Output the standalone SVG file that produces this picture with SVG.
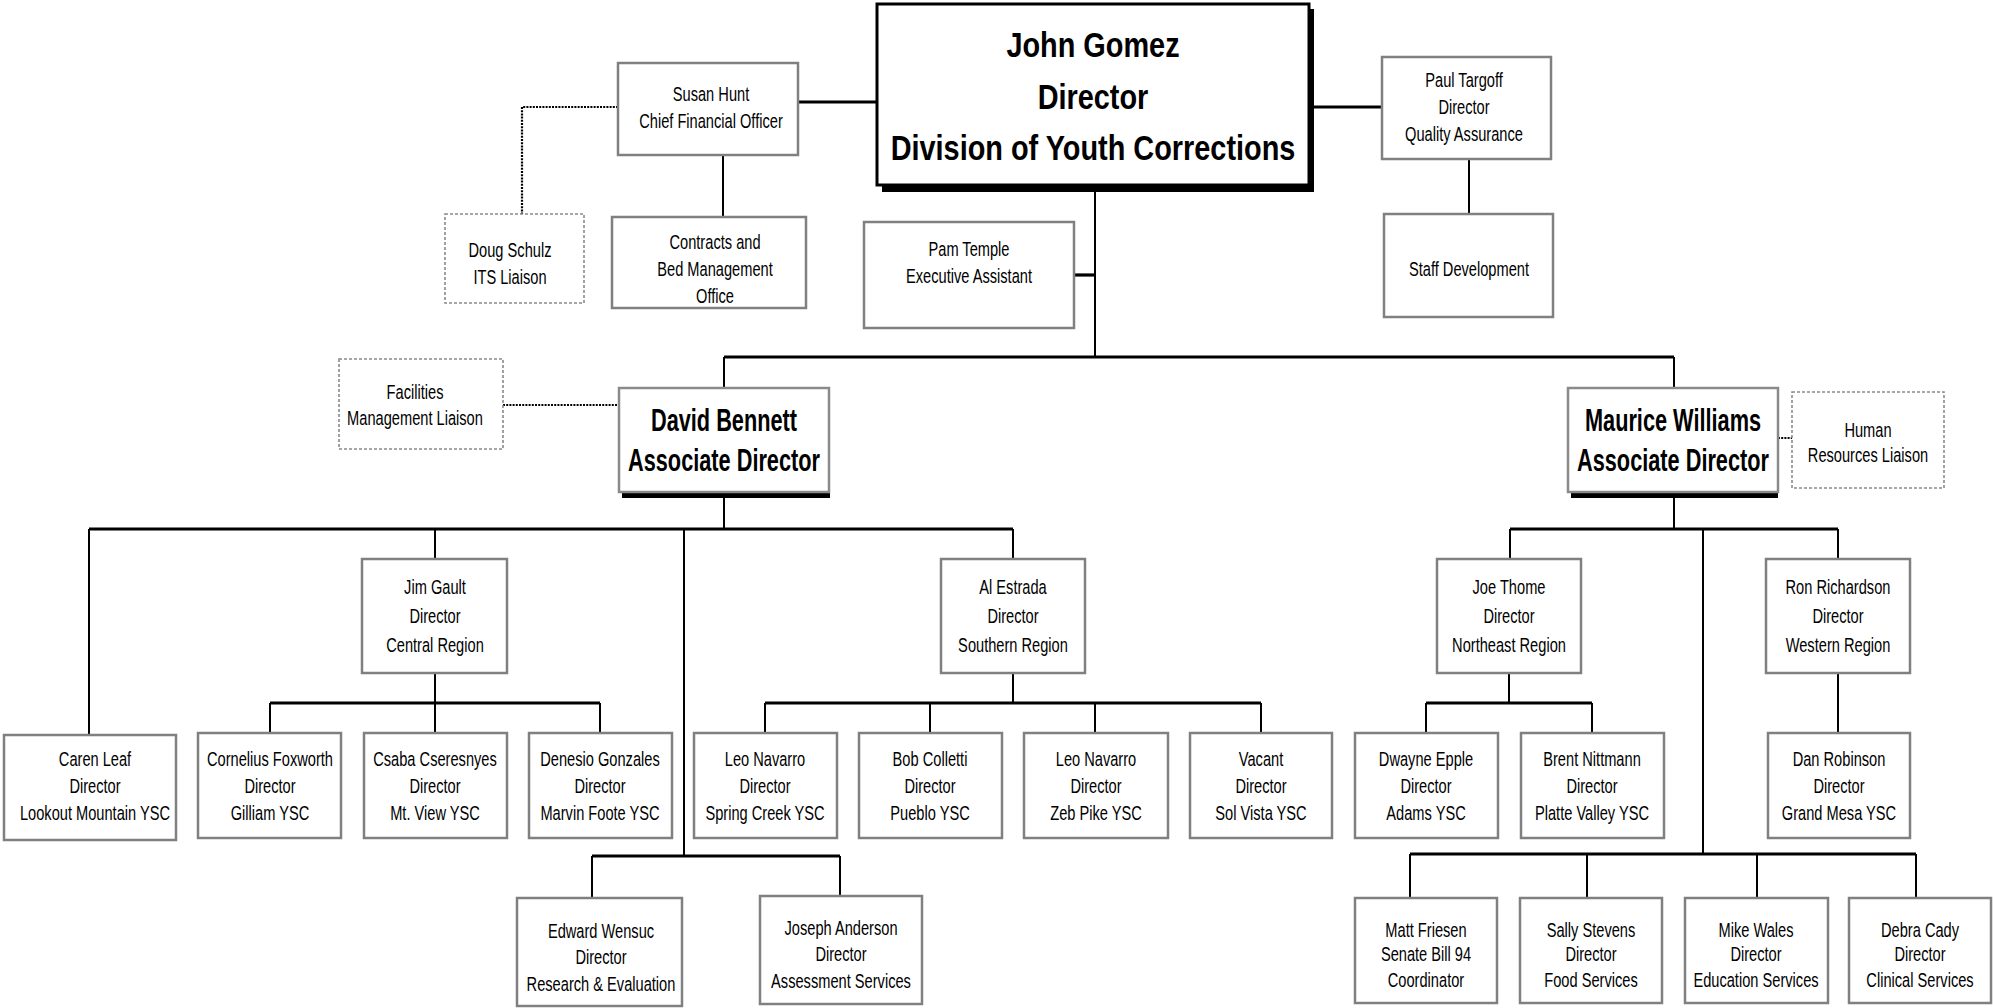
<svg xmlns="http://www.w3.org/2000/svg" width="1993" height="1008" viewBox="0 0 1993 1008">
<style>
.bx{fill:#fff;stroke:#808080;stroke-width:2.5}
.dbx{fill:#fff;stroke:#8a8a8a;stroke-width:1.6;stroke-dasharray:3 2}
.s{font-family:"Liberation Sans",Arial,sans-serif;font-size:20.5px;text-anchor:middle;fill:#000}
.b{font-family:"Liberation Sans",Arial,sans-serif;font-size:31.5px;font-weight:bold;text-anchor:middle;fill:#000}
.h{font-family:"Liberation Sans",Arial,sans-serif;font-size:35px;font-weight:bold;text-anchor:middle;fill:#000}
.ln{stroke:#000;stroke-width:2;fill:none}
.tk{stroke:#000;stroke-width:3.2;fill:none}
.dt{stroke:#000;stroke-width:2.2;fill:none;stroke-dasharray:2 1.2}
</style>
<rect width="1993" height="1008" fill="#fff"/>
<g id="connectors">
<path class="tk" d="M798 102H877"/>
<path class="ln" d="M723 155V217"/>
<path class="dt" d="M618 107H522V214"/>
<path class="tk" d="M1309 107H1382"/>
<path class="ln" d="M1469 159V214"/>
<path class="ln" d="M1095 192V357"/>
<path class="tk" d="M1074 275H1095"/>
<path class="tk" d="M724 357H1674"/>
<path class="ln" d="M724 357V388M1674 357V388"/>
<path class="dt" d="M503 405H619"/>
<path class="dt" d="M1778 438H1792"/>
<path class="ln" d="M724 498V529"/>
<path class="tk" d="M89 529H1013"/>
<path class="ln" d="M89 529V735M435 529V559M684 529V856M1013 529V559"/>
<path class="ln" d="M435 673V703"/>
<path class="tk" d="M270 703H600"/>
<path class="ln" d="M270 703V733M435 703V733M600 703V733"/>
<path class="ln" d="M1013 673V703"/>
<path class="tk" d="M765 703H1261"/>
<path class="ln" d="M765 703V733M930 703V733M1095 703V733M1261 703V733"/>
<path class="tk" d="M592 856H840"/>
<path class="ln" d="M592 856V898M840 856V896"/>
<path class="ln" d="M1674 498V529"/>
<path class="tk" d="M1510 529H1838"/>
<path class="ln" d="M1510 529V559M1703 529V854M1838 529V559"/>
<path class="ln" d="M1509 673V703"/>
<path class="tk" d="M1426 703H1592"/>
<path class="ln" d="M1426 703V733M1592 703V733"/>
<path class="ln" d="M1838 673V733"/>
<path class="tk" d="M1410 854H1916"/>
<path class="ln" d="M1410 854V898M1587 854V898M1757 854V898M1916 854V898"/>
</g>
<g id="john">
<rect x="882" y="9" width="432" height="183" fill="#000"/>
<rect x="877" y="4" width="432" height="181" fill="#fff" stroke="#000" stroke-width="3"/>
<text class="h" transform="translate(1093 0) scale(0.825 1)"><tspan x="0" y="57">John Gomez</tspan><tspan x="0" y="109">Director</tspan><tspan x="0" y="160">Division of Youth Corrections</tspan></text>
</g>
<g id="susan"><rect class="bx" x="618" y="63" width="180" height="92"/>
<text class="s" transform="translate(711 0) scale(0.714 1)"><tspan x="0" y="101">Susan Hunt</tspan><tspan x="0" y="128">Chief Financial Officer</tspan></text></g>
<g id="doug"><rect class="dbx" x="445" y="214" width="139" height="89"/>
<text class="s" transform="translate(510 0) scale(0.714 1)"><tspan x="0" y="257">Doug Schulz</tspan><tspan x="0" y="284">ITS Liaison</tspan></text></g>
<g id="contracts"><rect class="bx" x="612" y="217" width="194" height="91"/>
<text class="s" transform="translate(715 0) scale(0.714 1)"><tspan x="0" y="249">Contracts and</tspan><tspan x="0" y="276">Bed Management</tspan><tspan x="0" y="303">Office</tspan></text></g>
<g id="pam"><rect class="bx" x="864" y="222" width="210" height="106"/>
<text class="s" transform="translate(969 0) scale(0.714 1)"><tspan x="0" y="256">Pam Temple</tspan><tspan x="0" y="283">Executive Assistant</tspan></text></g>
<g id="paul"><rect class="bx" x="1382" y="57" width="169" height="102"/>
<text class="s" transform="translate(1464 0) scale(0.714 1)"><tspan x="0" y="87">Paul Targoff</tspan><tspan x="0" y="114">Director</tspan><tspan x="0" y="141">Quality Assurance</tspan></text></g>
<g id="staff"><rect class="bx" x="1384" y="214" width="169" height="103"/>
<text class="s" transform="translate(1469 0) scale(0.714 1)"><tspan x="0" y="276">Staff Development</tspan></text></g>
<g id="facilities"><rect class="dbx" x="339" y="359" width="164" height="90"/>
<text class="s" transform="translate(415 0) scale(0.714 1)"><tspan x="0" y="399">Facilities</tspan><tspan x="0" y="425">Management Liaison</tspan></text></g>
<g id="david">
<rect x="622" y="488" width="208" height="10" fill="#000"/>
<rect x="619" y="388" width="210" height="104" fill="#fff" stroke="#8a8a8a" stroke-width="2.5"/>
<text class="b" transform="translate(724 0) scale(0.69 1)"><tspan x="0" y="431">David Bennett</tspan><tspan x="0" y="471">Associate Director</tspan></text></g>
<g id="maurice">
<rect x="1571" y="488" width="207" height="10" fill="#000"/>
<rect x="1568" y="388" width="210" height="104" fill="#fff" stroke="#8a8a8a" stroke-width="2.5"/>
<text class="b" transform="translate(1673 0) scale(0.69 1)"><tspan x="0" y="431">Maurice Williams</tspan><tspan x="0" y="471">Associate Director</tspan></text></g>
<g id="human"><rect class="dbx" x="1792" y="392" width="152" height="96"/>
<text class="s" transform="translate(1868 0) scale(0.714 1)"><tspan x="0" y="437">Human</tspan><tspan x="0" y="462">Resources Liaison</tspan></text></g>
<g id="jim"><rect class="bx" x="362" y="559" width="145" height="114"/>
<text class="s" transform="translate(435 0) scale(0.714 1)"><tspan x="0" y="594">Jim Gault</tspan><tspan x="0" y="623">Director</tspan><tspan x="0" y="652">Central Region</tspan></text></g>
<g id="al"><rect class="bx" x="941" y="559" width="144" height="114"/>
<text class="s" transform="translate(1013 0) scale(0.714 1)"><tspan x="0" y="594">Al Estrada</tspan><tspan x="0" y="623">Director</tspan><tspan x="0" y="652">Southern Region</tspan></text></g>
<g id="joe"><rect class="bx" x="1437" y="559" width="144" height="114"/>
<text class="s" transform="translate(1509 0) scale(0.714 1)"><tspan x="0" y="594">Joe Thome</tspan><tspan x="0" y="623">Director</tspan><tspan x="0" y="652">Northeast Region</tspan></text></g>
<g id="ron"><rect class="bx" x="1766" y="559" width="144" height="114"/>
<text class="s" transform="translate(1838 0) scale(0.714 1)"><tspan x="0" y="594">Ron Richardson</tspan><tspan x="0" y="623">Director</tspan><tspan x="0" y="652">Western Region</tspan></text></g>
<g id="caren"><rect class="bx" x="4" y="735" width="172" height="105"/>
<text class="s" transform="translate(95 0) scale(0.714 1)"><tspan x="0" y="766">Caren Leaf</tspan><tspan x="0" y="793">Director</tspan><tspan x="0" y="820">Lookout Mountain YSC</tspan></text></g>
<g id="cornelius"><rect class="bx" x="198" y="733" width="143" height="105"/>
<text class="s" transform="translate(270 0) scale(0.714 1)"><tspan x="0" y="766">Cornelius Foxworth</tspan><tspan x="0" y="793">Director</tspan><tspan x="0" y="820">Gilliam YSC</tspan></text></g>
<g id="csaba"><rect class="bx" x="364" y="733" width="143" height="105"/>
<text class="s" transform="translate(435 0) scale(0.714 1)"><tspan x="0" y="766">Csaba Cseresnyes</tspan><tspan x="0" y="793">Director</tspan><tspan x="0" y="820">Mt. View YSC</tspan></text></g>
<g id="denesio"><rect class="bx" x="529" y="733" width="143" height="105"/>
<text class="s" transform="translate(600 0) scale(0.714 1)"><tspan x="0" y="766">Denesio Gonzales</tspan><tspan x="0" y="793">Director</tspan><tspan x="0" y="820">Marvin Foote YSC</tspan></text></g>
<g id="springcreek"><rect class="bx" x="694" y="733" width="143" height="105"/>
<text class="s" transform="translate(765 0) scale(0.714 1)"><tspan x="0" y="766">Leo Navarro</tspan><tspan x="0" y="793">Director</tspan><tspan x="0" y="820">Spring Creek YSC</tspan></text></g>
<g id="pueblo"><rect class="bx" x="859" y="733" width="143" height="105"/>
<text class="s" transform="translate(930 0) scale(0.714 1)"><tspan x="0" y="766">Bob Colletti</tspan><tspan x="0" y="793">Director</tspan><tspan x="0" y="820">Pueblo YSC</tspan></text></g>
<g id="zebpike"><rect class="bx" x="1024" y="733" width="144" height="105"/>
<text class="s" transform="translate(1096 0) scale(0.714 1)"><tspan x="0" y="766">Leo Navarro</tspan><tspan x="0" y="793">Director</tspan><tspan x="0" y="820">Zeb Pike YSC</tspan></text></g>
<g id="solvista"><rect class="bx" x="1190" y="733" width="142" height="105"/>
<text class="s" transform="translate(1261 0) scale(0.714 1)"><tspan x="0" y="766">Vacant</tspan><tspan x="0" y="793">Director</tspan><tspan x="0" y="820">Sol Vista YSC</tspan></text></g>
<g id="dwayne"><rect class="bx" x="1355" y="733" width="143" height="105"/>
<text class="s" transform="translate(1426 0) scale(0.714 1)"><tspan x="0" y="766">Dwayne Epple</tspan><tspan x="0" y="793">Director</tspan><tspan x="0" y="820">Adams YSC</tspan></text></g>
<g id="brent"><rect class="bx" x="1521" y="733" width="143" height="105"/>
<text class="s" transform="translate(1592 0) scale(0.714 1)"><tspan x="0" y="766">Brent Nittmann</tspan><tspan x="0" y="793">Director</tspan><tspan x="0" y="820">Platte Valley YSC</tspan></text></g>
<g id="dan"><rect class="bx" x="1768" y="733" width="142" height="105"/>
<text class="s" transform="translate(1839 0) scale(0.714 1)"><tspan x="0" y="766">Dan Robinson</tspan><tspan x="0" y="793">Director</tspan><tspan x="0" y="820">Grand Mesa YSC</tspan></text></g>
<g id="edward"><rect class="bx" x="517" y="898" width="165" height="108"/>
<text class="s" transform="translate(601 0) scale(0.714 1)"><tspan x="0" y="938">Edward Wensuc</tspan><tspan x="0" y="964">Director</tspan><tspan x="0" y="991">Research &amp; Evaluation</tspan></text></g>
<g id="joseph"><rect class="bx" x="760" y="896" width="162" height="108"/>
<text class="s" transform="translate(841 0) scale(0.714 1)"><tspan x="0" y="935">Joseph Anderson</tspan><tspan x="0" y="961">Director</tspan><tspan x="0" y="988">Assessment Services</tspan></text></g>
<g id="matt"><rect class="bx" x="1355" y="898" width="142" height="105"/>
<text class="s" transform="translate(1426 0) scale(0.714 1)"><tspan x="0" y="937">Matt Friesen</tspan><tspan x="0" y="961">Senate Bill 94</tspan><tspan x="0" y="987">Coordinator</tspan></text></g>
<g id="sally"><rect class="bx" x="1520" y="898" width="142" height="105"/>
<text class="s" transform="translate(1591 0) scale(0.714 1)"><tspan x="0" y="937">Sally Stevens</tspan><tspan x="0" y="961">Director</tspan><tspan x="0" y="987">Food Services</tspan></text></g>
<g id="mike"><rect class="bx" x="1685" y="898" width="143" height="105"/>
<text class="s" transform="translate(1756 0) scale(0.714 1)"><tspan x="0" y="937">Mike Wales</tspan><tspan x="0" y="961">Director</tspan><tspan x="0" y="987">Education Services</tspan></text></g>
<g id="debra"><rect class="bx" x="1849" y="898" width="142" height="105"/>
<text class="s" transform="translate(1920 0) scale(0.714 1)"><tspan x="0" y="937">Debra Cady</tspan><tspan x="0" y="961">Director</tspan><tspan x="0" y="987">Clinical Services</tspan></text></g>
</svg>
